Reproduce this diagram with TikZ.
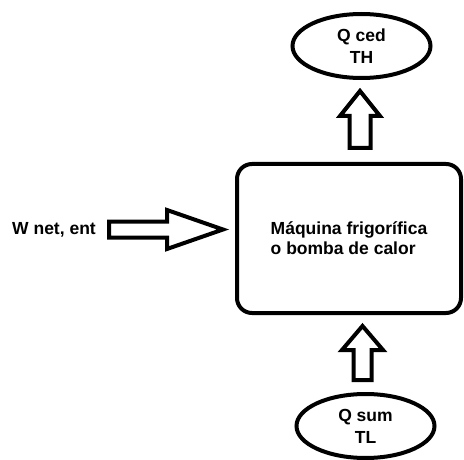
\documentclass[tikz,border=0pt]{standalone}
\usepackage{fontspec}
\setmainfont{Liberation Sans}
\usetikzlibrary{shapes.geometric}
\tikzset{
  txt/.style={font=\fontsize{17.5}{22}\selectfont\bfseries, align=center},
  reservoir/.style={draw, ellipse, line width=4pt, inner sep=0pt,
    minimum width=138pt, minimum height=64pt, txt},
  machinebox/.style={draw, rounded corners=15pt, line width=4pt,
    minimum width=224pt, minimum height=149pt,
    font=\fontsize{17.5}{20}\selectfont\bfseries, align=left},
  blockarrow/.style={draw, line width=4pt, fill=white, miter limit=10}
}
\begin{document}
\begin{tikzpicture}[x=1pt, y=-1pt]
  \useasboundingbox (0,0) rectangle (464,460);

  % machine and the two reservoirs
  \node[machinebox] (machine) at (349,238.5) {Máquina frigorífica\\o bomba de calor};
  \node[reservoir] (hot) at (361.5,46) {Q ced\\TH};
  \node[reservoir] (cold) at (365.5,426) {Q sum\\TL};
  \node[txt, anchor=west, inner sep=0pt] (work) at (12,230) {W net, ent};

  % work input: block arrow pointing at the machine
  \coordinate (wtip) at (223,229.5);
  \draw[blockarrow] (109,221.5) -- (167,221.5) -- (167,210) -- (wtip)
    -- (167,249) -- (167,237.5) -- (109,237.5) -- cycle;

  % heat rejected: block arrow from the machine up to the hot reservoir
  \coordinate (htip) at (360,91);
  \draw[blockarrow] (349.5,148) -- (349.5,116) -- (340,116) -- (htip)
    -- (380,116) -- (370.5,116) -- (370.5,148) -- cycle;

  % heat absorbed: block arrow from the cold reservoir up to the machine
  \coordinate (ctip) at (362.5,326);
  \draw[blockarrow] (353.5,380) -- (353.5,350) -- (342,350) -- (ctip)
    -- (383,350) -- (371.5,350) -- (371.5,380) -- cycle;
\end{tikzpicture}
\end{document}
